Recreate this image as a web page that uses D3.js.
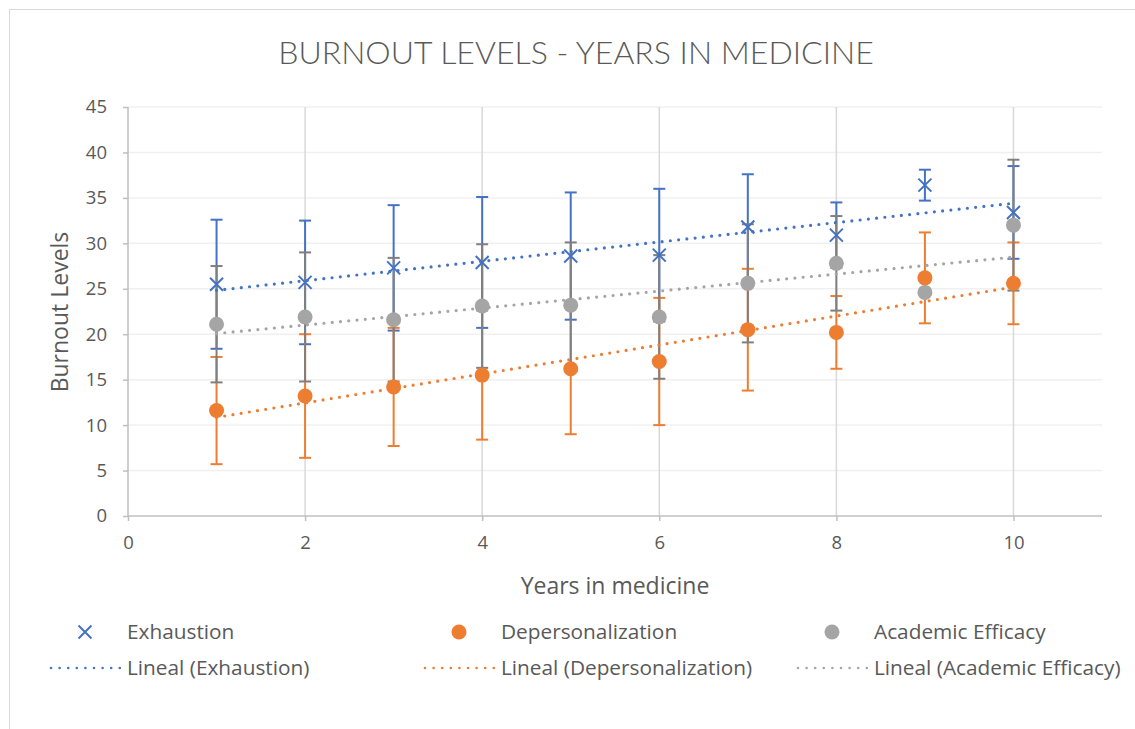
<!DOCTYPE html>
<html>
<head>
<meta charset="utf-8">
<script src="https://cdn.jsdelivr.net/npm/d3@7"></script>
<style>
  body { margin: 0; background: #fff; }
  text { font-family: "Open Sans", Lato, sans-serif; fill: #595959; }
</style>
</head>
<body>
<script>
// Data
var years = [1, 2, 3, 4, 5, 6, 7, 8, 9, 10];
var exhaustion = [25.5, 25.7, 27.3, 27.9, 28.6, 28.7, 31.8, 30.9, 36.4, 33.4];
var exhaustionErr = [7.1, 6.8, 6.9, 7.2, 7.0, 7.3, 5.8, 3.6, 1.7, 5.1];
var depersonalization = [11.6, 13.2, 14.2, 15.5, 16.2, 17.0, 20.5, 20.2, 26.2, 25.6];
var depersonalizationErr = [5.9, 6.8, 6.5, 7.1, 7.2, 7.0, 6.7, 4.0, 5.0, 4.5];
var efficacy = [21.1, 21.9, 21.6, 23.1, 23.2, 21.9, 25.6, 27.8, 24.6, 32.0];
var efficacyErr = [6.4, 7.1, 6.8, 6.8, 6.9, 6.8, 6.5, 5.2, 0, 7.2];
var yTicks = [0, 5, 10, 15, 20, 25, 30, 35, 40, 45];
var xTicks = [0, 2, 4, 6, 8, 10];

var w = 1135;
var h = 729;

var svg = d3.select("body")
            .append("svg")
            .attr("width", w)
            .attr("height", h);

// chart border
svg.append("rect")
   .attr("x", 9.5).attr("y", 9.5)
   .attr("width", w + 20).attr("height", h + 20)
   .attr("fill", "none")
   .attr("stroke", "#d9d9d9");

var x = d3.scaleLinear().domain([0, 11]).range([128, 1102]);
var y = d3.scaleLinear().domain([0, 45]).range([516, 107]);

// horizontal gridlines
svg.append("g")
   .selectAll("line")
   .data(yTicks.slice(1))
   .enter()
   .append("line")
   .attr("x1", x(0)).attr("x2", x(11))
   .attr("y1", function(d) { return y(d); })
   .attr("y2", function(d) { return y(d); })
   .attr("stroke", "#f0f0f0")
   .attr("stroke-width", 1.5);

// vertical gridlines
svg.append("g")
   .selectAll("line")
   .data(xTicks.slice(1))
   .enter()
   .append("line")
   .attr("x1", function(d) { return x(d); })
   .attr("x2", function(d) { return x(d); })
   .attr("y1", y(0)).attr("y2", y(45))
   .attr("stroke", "#d9d9d9")
   .attr("stroke-width", 1.5);

// axes
var yAxis = d3.axisLeft(y).tickValues(yTicks).tickSize(5).tickPadding(16);
var xAxis = d3.axisBottom(x).tickValues(xTicks).tickSize(5).tickPadding(15);

var gy = svg.append("g").attr("transform", "translate(" + x(0) + ",0)").call(yAxis);
var gx = svg.append("g").attr("transform", "translate(0," + y(0) + ")").call(xAxis);
[gy, gx].forEach(function(g) {
  g.select(".domain").attr("stroke", "#bfbfbf").attr("stroke-width", 1.5);
  g.selectAll(".tick line").attr("stroke", "#bfbfbf").attr("stroke-width", 1.5);
  g.selectAll(".tick text").style("font-size", "18.5px").style("fill", "#595959")
   .style("font-family", "'Open Sans', Lato, sans-serif");
});
gx.select(".domain").attr("d", "M" + x(0) + ",0H" + x(11));
gy.select(".domain").attr("d", "M0," + y(0) + "V" + y(45));

// title and axis labels
svg.append("text")
   .attr("x", 576).attr("y", 64)
   .attr("text-anchor", "middle")
   .style("font-family", "Lato, sans-serif")
   .style("font-size", "32px")
   .style("font-weight", 300)
   .text("BURNOUT LEVELS - YEARS IN MEDICINE");

svg.append("text")
   .attr("x", 615).attr("y", 594)
   .attr("text-anchor", "middle")
   .style("font-size", "23px")
   .text("Years in medicine");

svg.append("text")
   .attr("transform", "translate(68,312) rotate(-90)")
   .attr("text-anchor", "middle")
   .style("font-size", "23px")
   .text("Burnout Levels");

var series = [
  { name: "Exhaustion", values: exhaustion, err: exhaustionErr, color: "#4472c4", barColor: "#4472c4", marker: "x" },
  { name: "Depersonalization", values: depersonalization, err: depersonalizationErr, color: "#ed7d31", barColor: "#ed7d31", marker: "circle" },
  { name: "Academic Efficacy", values: efficacy, err: efficacyErr, color: "#a5a5a5", barColor: "#7f7f7f", marker: "circle" }
];

// linear fit
function fit(vals) {
  var mx = d3.mean(years), my = d3.mean(vals);
  var sxy = d3.sum(years, function(d, i) { return (d - mx) * (vals[i] - my); });
  var sxx = d3.sum(years, function(d) { return (d - mx) * (d - mx); });
  var b = sxy / sxx;
  return function(t) { return my + b * (t - mx); };
}

// error bars
series.forEach(function(s) {
  var g = svg.append("g");
  var pts = years.map(function(d, i) { return { x: d, v: s.values[i], e: s.err[i] }; })
                 .filter(function(p) { return p.e > 0; });
  g.selectAll("line.bar")
   .data(pts).enter().append("line")
   .attr("x1", function(d) { return x(d.x); })
   .attr("x2", function(d) { return x(d.x); })
   .attr("y1", function(d) { return y(d.v - d.e); })
   .attr("y2", function(d) { return y(d.v + d.e); })
   .attr("stroke", s.barColor).attr("stroke-width", 2);
  [-1, 1].forEach(function(sign) {
    g.selectAll("line.cap" + sign)
     .data(pts).enter().append("line")
     .attr("x1", function(d) { return x(d.x) - 6; })
     .attr("x2", function(d) { return x(d.x) + 6; })
     .attr("y1", function(d) { return y(d.v + sign * d.e); })
     .attr("y2", function(d) { return y(d.v + sign * d.e); })
     .attr("stroke", s.barColor).attr("stroke-width", 2);
  });
});

// trend lines
series.forEach(function(s) {
  var f = fit(s.values);
  svg.append("line")
     .attr("x1", x(1)).attr("y1", y(f(1)))
     .attr("x2", x(10)).attr("y2", y(f(10)))
     .attr("stroke", s.color)
     .attr("stroke-width", 3.2)
     .attr("stroke-linecap", "round")
     .attr("stroke-dasharray", "0 8.3");
});

// markers
function drawMarker(g, s, cx, cy, size) {
  if (s.marker === "x") {
    g.append("path")
     .attr("d", "M" + (cx - size) + "," + (cy - size) + "L" + (cx + size) + "," + (cy + size) +
                "M" + (cx - size) + "," + (cy + size) + "L" + (cx + size) + "," + (cy - size))
     .attr("stroke", s.color).attr("stroke-width", 2).attr("fill", "none");
  } else {
    g.append("circle").attr("cx", cx).attr("cy", cy).attr("r", size + 1)
     .attr("fill", s.color);
  }
}

series.forEach(function(s) {
  var g = svg.append("g");
  years.forEach(function(d, i) {
    drawMarker(g, s, x(d), y(s.values[i]), 6.5);
  });
});

// legend
var legendX = [50, 424, 797];
series.forEach(function(s, i) {
  var lx = legendX[i];
  var g = svg.append("g");
  drawMarker(g, s, lx + 35, 632, 6.5);
  g.append("text").attr("x", lx + 77).attr("y", 638.5).style("font-size", "20.8px").text(s.name);
  g.append("line")
   .attr("x1", lx + 1).attr("x2", lx + 70)
   .attr("y1", 668).attr("y2", 668)
   .attr("stroke", s.color).attr("stroke-width", 2.6)
   .attr("stroke-linecap", "round")
   .attr("stroke-dasharray", "0 8.6");
  g.append("text").attr("x", lx + 77).attr("y", 674.5).style("font-size", "20.8px")
   .text("Lineal (" + s.name + ")");
});
</script>
</body>
</html>
